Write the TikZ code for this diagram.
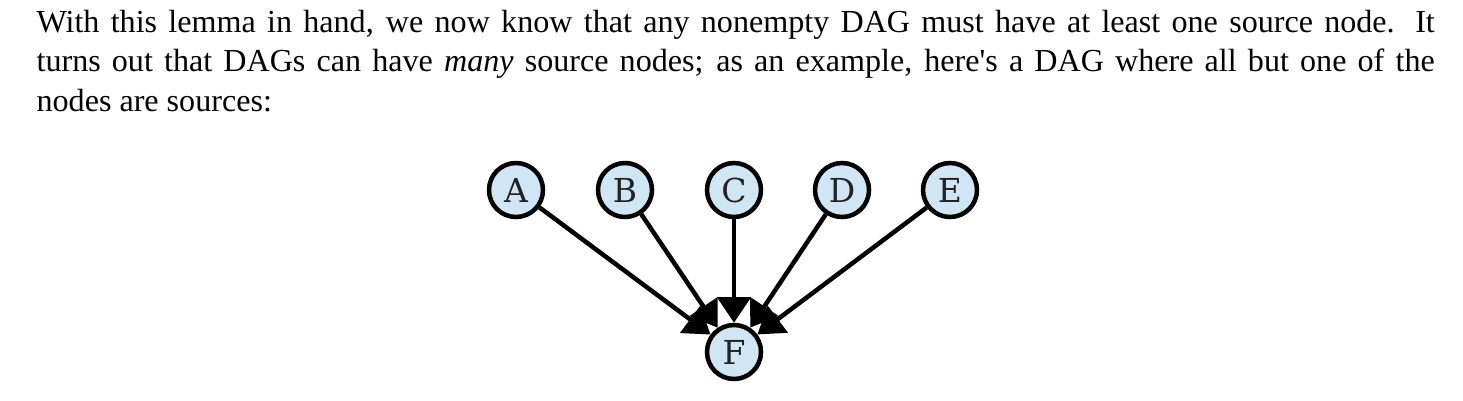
\documentclass[tikz,border=0pt]{standalone}
\usepackage{fontspec}
\setmainfont{Liberation Serif}
\newfontfamily\vertexfont{DejaVu Serif}
\usepackage{tikz}
\usetikzlibrary{arrows.meta}
\usepackage{xcolor}
\definecolor{vertexfill}{RGB}{208,230,245}
\definecolor{vertexlabel}{RGB}{34,34,34}
\tikzstyle{vertex} = [circle, draw=black, line width=1.5pt, fill=vertexfill, minimum size=18pt, inner sep=0pt, text=vertexlabel, font=\vertexfont\fontsize{11}{12}\selectfont]
\tikzstyle{edge} = [line width=1.5pt, -{Triangle[length=8.5pt, width=11pt]}]

\begin{document}
\begin{tikzpicture}[x=0.3333pt, y=-0.3333pt]

        \path[use as bounding box] (0,0) rectangle (1463,401);

        \node (para) [anchor=base west, inner sep=0pt, text width=466pt, align=justify, font=\fontsize{10.7}{13}\selectfont] at (36,33)
        {With this lemma in hand, we now know that any nonempty DAG must have at least one source node.  It\linebreak
        turns out that DAGs can have \textit{many} source nodes; as an example, here\textquotesingle s a DAG where all but one of the\linebreak
        nodes are sources:};

        \node (A) [vertex] at (516,190) {A};
        \node (B) [vertex] at (625,190) {B};
        \node (C) [vertex] at (734,190) {C};
        \node (D) [vertex] at (842,190) {D};
        \node (E) [vertex] at (950,190) {E};

        \node (F) [vertex] at (734,352) {F};

        \draw[edge] (A) -- (F);
        \draw[edge] (B) -- (F);
        \draw[edge] (C) -- (F);
        \draw[edge] (D) -- (F);
        \draw[edge] (E) -- (F);

    \end{tikzpicture}
\end{document}
